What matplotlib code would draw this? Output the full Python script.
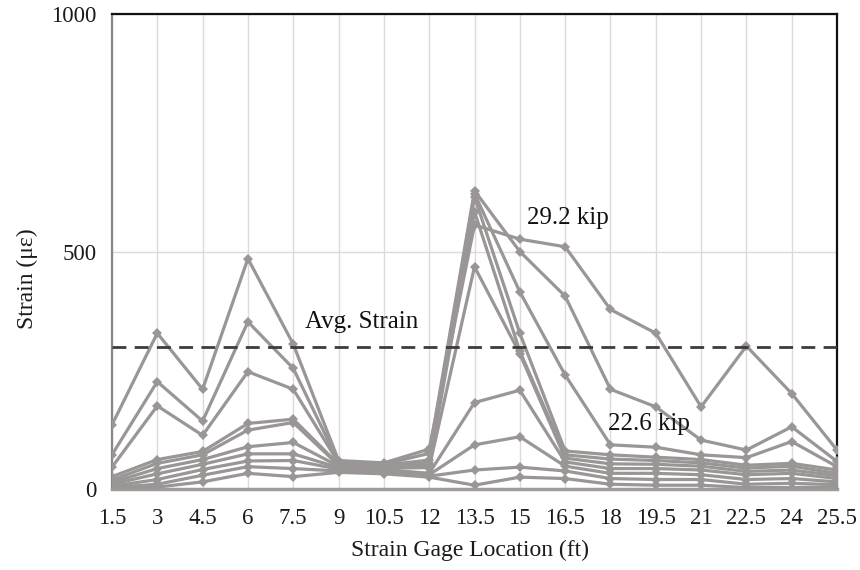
import matplotlib
matplotlib.use("Agg")
import matplotlib.pyplot as plt
import numpy as np

# Strain gage locations along the girder (ft)
locations = [1.5, 3, 4.5, 6, 7.5, 9, 10.5, 12, 13.5, 15, 16.5, 18, 19.5, 21, 22.5, 24, 25.5]
tick_labels = ["1.5", "3", "4.5", "6", "7.5", "9", "10.5", "12", "13.5", "15",
               "16.5", "18", "19.5", "21", "22.5", "24", "25.5"]

# Measured strain (microstrain) for each load step
load_1 = [135, 328, 210, 485, 305, 60, 55, 84, 556, 526, 510, 378, 328, 173, 301, 201, 82]
load_2 = [72, 226, 143, 352, 254, 57, 52, 75, 628, 500, 406, 210, 173, 103, 82, 131, 58]
load_3 = [46, 175, 113, 247, 210, 55, 50, 61, 622, 415, 240, 93, 88, 72, 66, 100, 47]
load_4 = [26, 62, 79, 138, 147, 52, 48, 55, 615, 328, 80, 72, 67, 62, 50, 54, 40]
load_5 = [19, 54, 72, 124, 140, 50, 46, 50, 584, 290, 72, 63, 60, 55, 44, 48, 33]
load_6 = [14, 43, 62, 89, 98, 48, 44, 45, 468, 285, 65, 53, 52, 48, 37, 40, 28]
load_7 = [10, 32, 52, 74, 74, 45, 41, 33, 182, 208, 57, 43, 43, 40, 30, 33, 22]
load_8 = [6, 20, 41, 59, 60, 42, 38, 30, 93, 110, 48, 33, 33, 30, 20, 22, 15]
load_9 = [3, 10, 29, 47, 43, 38, 35, 27, 40, 46, 38, 22, 20, 20, 10, 12, 9]
load_10 = [1, 4, 15, 33, 26, 35, 32, 25, 8, 25, 22, 10, 8, 8, 3, 3, 4]

avg_strain = 300
y_ticks = [0, 500, 1000]

series = [load_1, load_2, load_3, load_4, load_5, load_6, load_7, load_8, load_9, load_10]

plt.rcParams['font.family'] = ['Liberation Serif', 'DejaVu Serif']

fig = plt.figure(figsize=(8.6, 5.7), dpi=100)
ax = fig.add_axes([0.1302, 0.1421, 0.9733 - 0.1302, 0.9754 - 0.1421])

line_color = '#9b9696'
for s in series:
    ax.plot(locations, s, color=line_color, lw=2.3, marker='D', ms=5.5,
            markeredgewidth=0, zorder=3)

ax.axhline(avg_strain, color='#3f3b3b', lw=2.0, ls=(0, (5, 3)), zorder=4)

ax.set_xlim(locations[0], locations[-1])
ax.set_ylim(0, 1000)
ax.set_xticks(locations)
ax.set_xticklabels(tick_labels)
ax.set_yticks(y_ticks)

ax.grid(True, axis='both', color='#dedada', lw=1.0, zorder=0)
ax.set_axisbelow(True)
ax.tick_params(axis='both', length=0, labelsize=16.5, colors='#1a1a1a')
ax.tick_params(axis='x', pad=14)
ax.tick_params(axis='y', pad=11)

for side in ('top', 'right'):
    ax.spines[side].set_color('#111111')
    ax.spines[side].set_linewidth(1.6)
ax.spines['left'].set_color('#8a8686')
ax.spines['left'].set_linewidth(1.6)
ax.spines['bottom'].set_color('#a19c9c')
ax.spines['bottom'].set_linewidth(2.5)

ax.set_xlabel("Strain Gage Location (ft)", fontsize=17, color='#1a1a1a')
ax.set_ylabel("Strain (\u03bc\u03b5)", fontsize=17, color='#1a1a1a')
ax.xaxis.set_label_coords(0.494, -0.107)
ax.yaxis.set_label_coords(-0.102, 0.442)

ax.text(15.24, 570, "29.2 kip", fontsize=18, va='center', ha='left', color='#111111', zorder=5)
ax.text(17.92, 137, "22.6 kip", fontsize=18, va='center', ha='left', color='#111111', zorder=5)
ax.text(7.89, 352, "Avg. Strain", fontsize=18, va='center', ha='left', color='#111111', zorder=5)

fig.savefig("out.png", dpi=100, facecolor='white')
